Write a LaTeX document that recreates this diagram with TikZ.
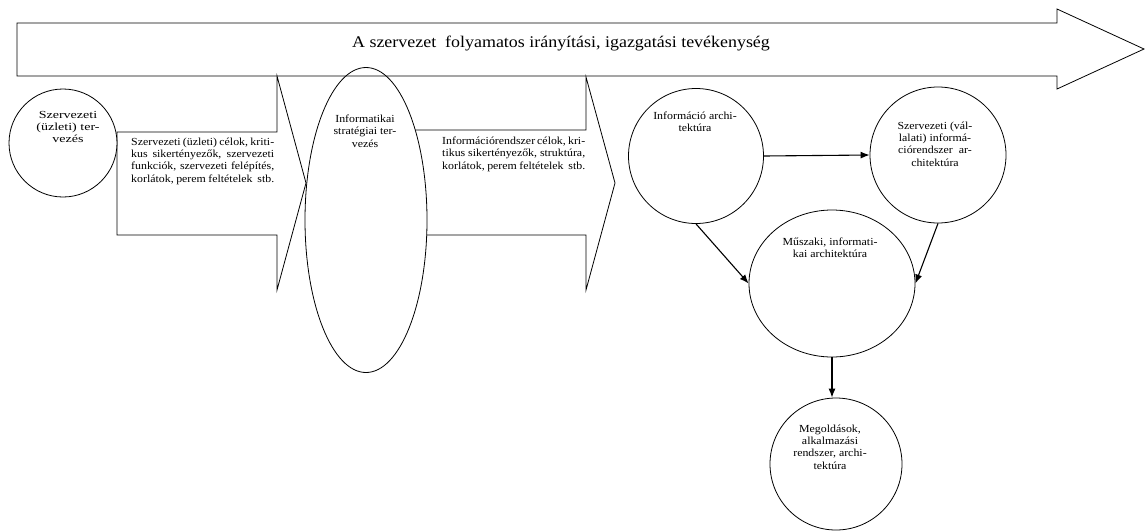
\documentclass[tikz,border=0pt]{standalone}
\usepackage{fontspec}
\setmainfont{Liberation Serif}[FakeStretch=1.1]
\newfontfamily\widerfont{Liberation Serif}[FakeStretch=1.3]
\usetikzlibrary{shapes.geometric,arrows.meta}
% one justified line of a fixed width
\newcommand\jline[1]{\makebox[143pt][s]{#1}}
\begin{document}
\begin{tikzpicture}[x=1pt,y=-1pt,
  outline/.style={draw=black,line width=0.8pt,line join=miter},
  blob/.style={draw=black,fill=white,line width=0.8pt,circle,inner sep=0pt},
  oval/.style={draw=black,fill=white,line width=0.8pt,ellipse,inner sep=0pt},
  lbl/.style={font=\fontsize{10.8}{12.1}\selectfont,align=center,inner sep=0pt,anchor=north},
  lbll/.style={font=\fontsize{10.8}{12.1}\selectfont,align=left,inner sep=0pt,anchor=north west},
  link/.style={draw=black,line width=1.1pt,-{Latex[length=9pt,width=7pt]}}]
\useasboundingbox (0,0) rectangle (1145,531);

% block arrows of the two planning stages
\draw[outline,fill=white] (117,132) -- (277,132) -- (277,76) -- (306,183) -- (277,290)
   -- (277,235) -- (117,235) -- cycle;
\draw[outline,fill=white] (400,130) -- (586,130) -- (586,77) -- (615,183) -- (586,290)
   -- (586,235) -- (400,235) -- cycle;

% strategic planning oval
\node[oval,minimum width=122pt,minimum height=305pt] (strat) at (366,220) {};

% continuous management arrow along the top
\draw[outline] (17,23) -- (1057,23) -- (1057,9) -- (1144,49) -- (1057,89)
   -- (1057,76) -- (17,76) -- cycle;
\node[font=\fontsize{16.3}{18}\selectfont,anchor=base,inner sep=0pt] (mgmt) at (561,47)
  {A szervezet\ \ folyamatos irányítási, igazgatási tevékenység};

% circles
\node[blob,minimum size=108pt] (uzleti) at (63,143) {};
\node[blob,minimum size=135pt] (infarch) at (696,156) {};
\node[blob,minimum size=136pt] (vallarch) at (938,155) {};
\node[oval,minimum width=166pt,minimum height=147pt] (muszaki) at (832,283.5) {};
\node[blob,minimum size=132pt] (megold) at (836,464) {};

% texts
\node[lbl,font=\widerfont\fontsize{10.8}{12}\selectfont] (t1) at (68,111) {Szervezeti\\(üzleti) ter-\\vezés};
\node[lbll] (t2) at (131,138) {\jline{Szervezeti (üzleti) célok, kriti-}\\
  \jline{kus sikertényezők, szervezeti}\\
  \jline{funkciók, szervezeti felépítés,}\\
  \jline{korlátok, perem feltételek\ \ stb.}};
\node[lbl] (t3) at (365,115) {Informatikai\\stratégiai ter-\\vezés};
\node[lbll] (t4) at (442,137) {\jline{Információrendszer célok, kri-}\\
  \jline{tikus sikertényezők, struktúra,}\\
  \jline{korlátok, perem feltételek\ \ stb.}};
\node[lbl] (t5) at (695,112) {Információ archi-\\tektúra};
\node[lbl] (t6) at (935,122) {Szervezeti (vál-\\lalati) informá-\\ciórendszer\ \ ar-\\chitektúra};
\node[lbl] (t7) at (830,238) {Műszaki, informati-\\kai architektúra};
\node[lbl] (t8) at (830,425) {Megoldások,\\alkalmazási\\rendszer, archi-\\tektúra};

% connectors
\draw[link] (infarch.east) -- (vallarch.west);
\draw[link] (infarch.south) -- (muszaki.west);
\draw[link] (vallarch.south) -- (muszaki.east);
\draw[link] (muszaki.south) -- (muszaki.south |- megold.north);
\end{tikzpicture}
\end{document}
